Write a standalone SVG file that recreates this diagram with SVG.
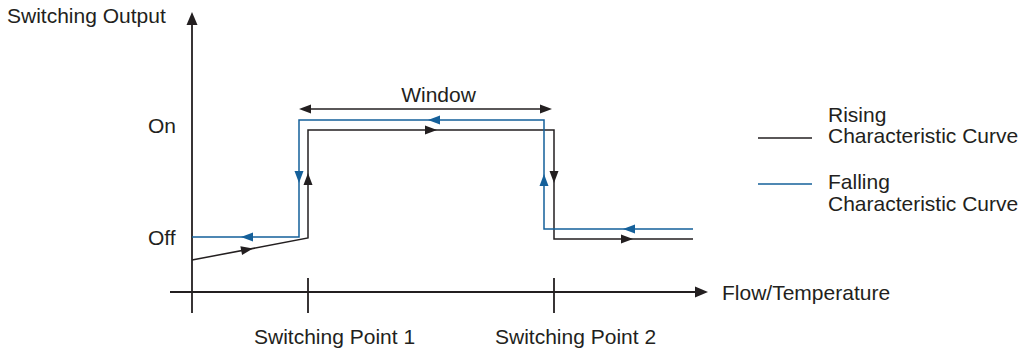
<svg xmlns="http://www.w3.org/2000/svg" xmlns:xlink="http://www.w3.org/1999/xlink" width="1034" height="348" viewBox="0 0 1034 348">
  <style>
    text { font-family: "Liberation Sans", Arial, sans-serif; font-size: 21px; fill: #231f20; }
    .ax { stroke: #231f20; stroke-width: 1.8; fill: none; }
    .blk { stroke: #231f20; stroke-width: 1.5; fill: none; }
    .blu { stroke: #15609a; stroke-width: 1.5; fill: none; }
    .hb { fill: #231f20; }
    .hu { fill: #15609a; }
  </style>
  <defs>
    <path id="head" d="M0,0 L-12,-4.5 L-12,4.5 Z"/>
    <path id="axhead" d="M0,0 L-13,-5.5 L-13,5.5 Z"/>
  </defs>
  <rect width="1034" height="348" fill="#ffffff"/>

  <g id="axes">
    <line class="ax" x1="192" y1="22" x2="192" y2="313"/>
    <use xlink:href="#axhead" class="hb" transform="translate(192,12) rotate(-90)"/>
    <line class="ax" x1="170" y1="292" x2="697" y2="292"/>
    <use xlink:href="#axhead" class="hb" transform="translate(708,292)"/>
    <line class="ax" x1="308" y1="278" x2="308" y2="313"/>
    <line class="ax" x1="554" y1="278" x2="554" y2="313"/>
    <text x="7" y="23">Switching Output</text>
    <text x="722" y="300">Flow/Temperature</text>
    <text x="148" y="133">On</text>
    <text x="148" y="245">Off</text>
    <text x="254" y="344">Switching Point 1</text>
    <text x="495" y="344">Switching Point 2</text>
  </g>

  <g id="window">
    <line class="blk" x1="305" y1="109" x2="546" y2="109"/>
    <use xlink:href="#head" class="hb" transform="translate(299,109) rotate(180)"/>
    <use xlink:href="#head" class="hb" transform="translate(552,109)"/>
    <text x="438.5" y="102" text-anchor="middle">Window</text>
  </g>

  <g id="rising-curve">
    <polyline class="blk" points="192,260 308,238 308,130 554,130 554,239 693,239"/>
    <use xlink:href="#head" class="hb" transform="translate(253,248.4) rotate(-10.74)"/>
    <use xlink:href="#head" class="hb" transform="translate(308,173) rotate(-90)"/>
    <use xlink:href="#head" class="hb" transform="translate(437,130)"/>
    <use xlink:href="#head" class="hb" transform="translate(554,183) rotate(90)"/>
    <use xlink:href="#head" class="hb" transform="translate(633,239)"/>
  </g>

  <g id="falling-curve">
    <polyline class="blu" points="192,237 299,237 299,120 544,120 544,229 693,229"/>
    <use xlink:href="#head" class="hu" transform="translate(241,237) rotate(180)"/>
    <use xlink:href="#head" class="hu" transform="translate(299,183) rotate(90)"/>
    <use xlink:href="#head" class="hu" transform="translate(428,120) rotate(180)"/>
    <use xlink:href="#head" class="hu" transform="translate(544,174) rotate(-90)"/>
    <use xlink:href="#head" class="hu" transform="translate(623,229) rotate(180)"/>
  </g>

  <g id="legend-rising">
    <line class="blk" x1="758" y1="138" x2="812" y2="138"/>
    <text x="828" y="122">Rising</text>
    <text x="828" y="143">Characteristic Curve</text>
  </g>
  <g id="legend-falling">
    <line class="blu" x1="758" y1="184" x2="812" y2="184"/>
    <text x="828" y="189">Falling</text>
    <text x="828" y="211">Characteristic Curve</text>
  </g>
</svg>
